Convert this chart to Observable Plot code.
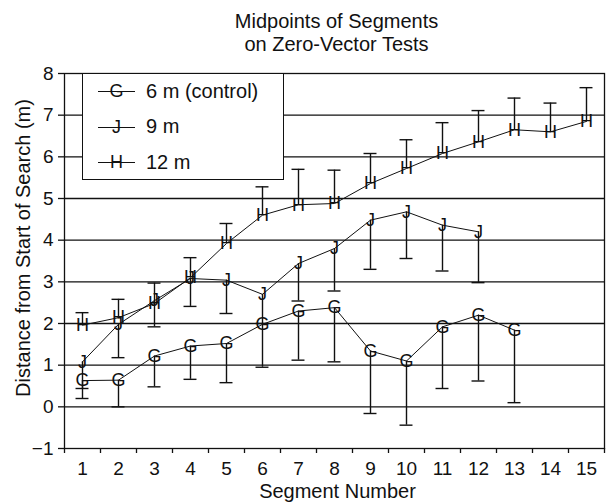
<!DOCTYPE html>
<html><head><meta charset="utf-8">
<script src="https://cdn.jsdelivr.net/npm/d3@7"></script>
<script src="https://cdn.jsdelivr.net/npm/@observablehq/plot@0.6"></script>
<style>
body{margin:0;background:#fff;font-family:"Liberation Sans",Arial,sans-serif;}
#wrap{position:relative;width:606px;height:504px;}
#legend{position:absolute;left:82px;top:73px;width:202px;height:107px;border:1.3px solid #111;background:#fff;box-sizing:border-box;}
.row{position:absolute;left:0;height:36px;display:flex;align-items:center;}
.sample{position:relative;width:37px;height:36px;margin-left:15px;}
.sample::before{content:"";position:absolute;left:0;right:0;top:50%;border-top:1.2px solid #111;}
.sample span{position:absolute;left:0;right:0;text-align:center;top:50%;transform:translateY(-50%);font-size:18px;line-height:1;color:#111;}
.lab{margin-left:11px;font-size:20px;color:#111;white-space:nowrap;}
</style></head>
<body>
<div id="wrap"></div>
<script>
// ---- data ----
const segments = [1,2,3,4,5,6,7,8,9,10,11,12,13,14,15];
const yTicks = [-1,0,1,2,3,4,5,6,7,8];
const gridValues = [0,1,2,3,4,5,6,7];
const seriesNames = ["6 m (control)", "9 m", "12 m"];
const seriesLetters = ["G", "J", "H"];
const titleLines = ["Midpoints of Segments", "on Zero-Vector Tests"];
const xLabel = "Segment Number";
const yLabel = "Distance from Start of Search (m)";

// 6 m (control): midpoint and lower error end
const g6 = [0.63,0.64,1.22,1.46,1.52,1.98,2.30,2.38,1.34,1.10,1.92,2.20,1.84];
const g6Low = [0.20,0.00,0.48,0.66,0.58,0.95,1.12,1.08,-0.16,-0.44,0.44,0.62,0.10];
// 9 m: midpoint and lower error end
const j9 = [1.08,1.98,2.55,3.08,3.04,2.70,3.44,3.80,4.48,4.68,4.36,4.20];
const j9Low = [0.44,1.18,1.92,2.41,2.24,2.00,2.54,2.78,3.30,3.56,3.26,2.98];
// 12 m: midpoint and upper error end
const h12 = [1.96,2.14,2.48,3.10,3.92,4.60,4.85,4.88,5.36,5.72,6.08,6.36,6.65,6.60,6.85];
const h12High = [2.26,2.58,2.97,3.58,4.40,5.28,5.70,5.68,6.08,6.41,6.82,7.11,7.41,7.29,7.66];

// ---- table ----
const rows = [];
[[g6, g6Low], [j9, j9Low], [h12, h12High]].forEach(([vals, ends], k) => {
  vals.forEach((v, i) => rows.push({series: seriesNames[k], letter: seriesLetters[k], seg: segments[i], value: v, end: ends[i]}));
});
const boundaries = segments.map(s => s - 0.5).concat([segments[segments.length - 1] + 0.5]);
const ink = "#111";

const chart = Plot.plot({
  width: 606, height: 504,
  marginLeft: 64, marginRight: 2, marginTop: 73, marginBottom: 56,
  x: {domain: [boundaries[0], boundaries[boundaries.length - 1]]},
  y: {domain: [yTicks[0], yTicks[yTicks.length - 1]]},
  style: {fontFamily: "'Liberation Sans', Arial, sans-serif", color: ink, background: "#fff"},
  marks: [
    Plot.ruleY(gridValues, {stroke: ink, strokeWidth: 1.3}),
    Plot.frame({stroke: ink, strokeWidth: 1.3}),
    Plot.axisY({ticks: yTicks, tickSize: 6, tickPadding: 5, fontSize: 19, label: null, strokeWidth: 1.3,
      tickFormat: d => d < 0 ? "\u2212" + (-d) : String(d)}),
    Plot.axisX({ticks: segments, tickSize: 0, tickPadding: 13, fontSize: 19, label: null}),
    Plot.axisX({ticks: boundaries, tickSize: 5, tickFormat: () => "", label: null, strokeWidth: 1.3}),
    Plot.ruleX(rows, {x: "seg", y1: "value", y2: "end", stroke: ink, strokeWidth: 1.4}),
    Plot.ruleY(rows, {y: "end", x1: d => d.seg - 0.18, x2: d => d.seg + 0.18, stroke: ink, strokeWidth: 1.4}),
    Plot.line(rows, {x: "seg", y: "value", z: "series", stroke: ink, strokeWidth: 1}),
    Plot.text(rows, {x: "seg", y: "value", text: "letter", fontSize: 18, fill: ink}),
    Plot.text([titleLines[0]], {frameAnchor: "top", textAnchor: "middle", lineAnchor: "middle", dx: 2, dy: -52, fontSize: 20, fill: ink}),
    Plot.text([titleLines[1]], {frameAnchor: "top", textAnchor: "middle", lineAnchor: "middle", dx: 2, dy: -29, fontSize: 20, fill: ink}),
    Plot.text([xLabel], {frameAnchor: "bottom", textAnchor: "middle", lineAnchor: "middle", dx: 3, dy: 43, fontSize: 20, fill: ink}),
    Plot.text([yLabel], {frameAnchor: "left", textAnchor: "middle", lineAnchor: "middle", rotate: -90, dx: -41, dy: -13, fontSize: 20, fill: ink})
  ]
});
const wrap = document.getElementById("wrap");
wrap.appendChild(chart);

// ---- legend ----
const legend = document.createElement("div");
legend.id = "legend";
seriesNames.forEach((name, k) => {
  const row = document.createElement("div");
  row.className = "row";
  row.style.top = (k * 35.5 - 1) + "px";
  row.innerHTML = `<div class="sample"><span>${seriesLetters[k]}</span></div><div class="lab">${name}</div>`;
  legend.appendChild(row);
});
wrap.appendChild(legend);
</script>
</body></html>
